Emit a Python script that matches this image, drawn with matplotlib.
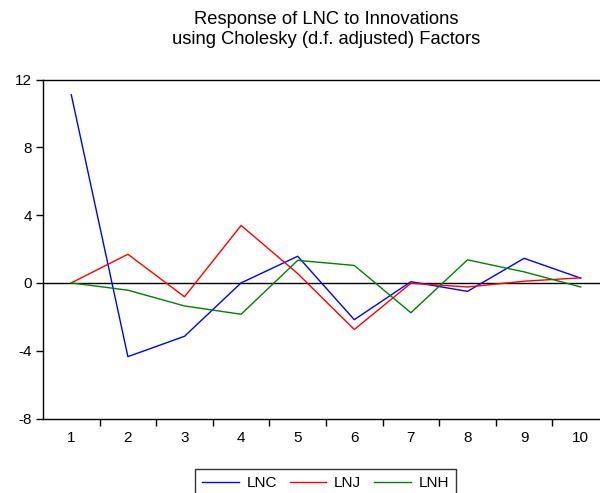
import matplotlib
matplotlib.use("Agg")
import matplotlib.pyplot as plt
from matplotlib.ticker import FixedLocator

plt.rcParams["font.family"] = ["Liberation Sans", "DejaVu Sans"]
plt.rcParams["axes.unicode_minus"] = False

periods = list(range(1, 11))
lnc = [11.1, -4.35, -3.15, 0.0, 1.57, -2.17, 0.07, -0.5, 1.45, 0.28]
lnj = [0.0, 1.69, -0.82, 3.39, 0.55, -2.75, -0.02, -0.24, 0.1, 0.3]
lnh = [0.0, -0.43, -1.36, -1.85, 1.33, 1.03, -1.76, 1.36, 0.65, -0.24]

series = [("LNC", lnc, "#0000ff"), ("LNJ", lnj, "#ff0000"), ("LNH", lnh, "#008000")]

fig = plt.figure(figsize=(6.0, 4.93), dpi=100)
# right edge of the frame runs past the figure border
ax = fig.add_axes([43 / 600, 1 - 418.5 / 493, 566 / 600, 339 / 493])

for name, vals, col in series:
    ax.plot(periods, vals, color=col, lw=1.0, label=name)

ax.axhline(0, color="black", lw=1.0, zorder=1)

ax.set_xlim(0.5, 10.5)
ax.set_ylim(-8, 12)
ax.set_yticks([-8, -4, 0, 4, 8, 12])
ax.set_xticks(periods)
ax.xaxis.set_minor_locator(FixedLocator([p + 0.5 for p in periods[:-1]]))
ax.tick_params(axis="x", which="major", length=0, pad=9, labelsize=11)
ax.tick_params(axis="x", which="minor", length=5, width=1, direction="out")
ax.tick_params(axis="y", length=5, width=1, direction="out", labelsize=11, pad=3)

for side in ("left", "top", "bottom", "right"):
    ax.spines[side].set_linewidth(1.0)
    ax.spines[side].set_color("black")

fig.text(326 / 600, 1 - 11 / 493, "Response of LNC to Innovations\nusing Cholesky (d.f. adjusted) Factors",
         ha="center", va="top", fontsize=13.2, linespacing=1.2)

leg = ax.legend(loc="upper center", bbox_to_anchor=(325.5 / 600, 1 - 469 / 493), bbox_transform=fig.transFigure,
                ncol=3, frameon=True, fancybox=False, edgecolor="black", fontsize=11,
                handlelength=2.4, columnspacing=0.85, handletextpad=0.5, borderpad=0.45,
                borderaxespad=0)
leg.get_frame().set_linewidth(1.0)

fig.savefig("out.png", dpi=100)
